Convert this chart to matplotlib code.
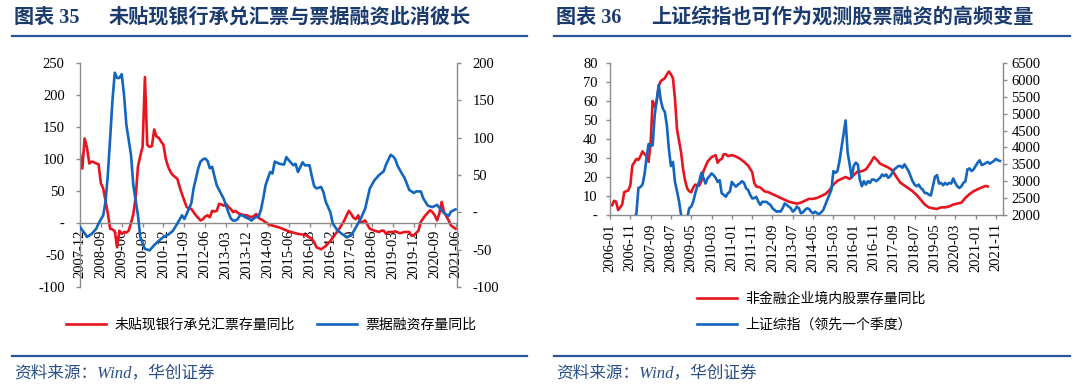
import numpy as np
import pandas as pd
import matplotlib
matplotlib.use('Agg')
import matplotlib.pyplot as plt
from matplotlib.ticker import FuncFormatter

plt.rcParams['font.family'] = ['Liberation Serif', 'Noto Sans CJK SC']
plt.rcParams['axes.unicode_minus'] = False

# ---- chart 35: months after 2007-12 ----
bill_m = [0, 1, 2, 3, 4, 5, 6, 7, 8, 9, 10, 11, 12, 13, 14, 15, 16, 17, 18, 19, 20, 21, 22, 23, 24,
          25, 26, 27, 28, 29, 30, 31, 32, 33, 34, 35, 36, 37, 38, 39, 40, 41, 42, 43, 44, 45, 46, 47,
          48, 49, 50, 51, 52, 53, 54, 55, 56, 57, 58, 59, 60, 61, 62, 63, 64, 65, 66, 67, 68, 69, 70,
          72, 73, 74, 75, 76, 77, 78, 79, 80, 82, 84, 86, 88, 90, 92, 94, 96, 98, 100, 101, 102, 104,
          106, 108, 110, 112, 114, 115, 116, 117, 118, 119, 120, 121, 122, 123, 124, 125, 127, 129,
          130, 131, 132, 133, 135, 136, 138, 140, 142, 143, 144, 146, 147, 149, 151, 152, 153, 154,
          155, 156, 157, 159, 160, 162]
bill_v = [108, 85, 132, 118, 93, 96, 95, 93, 92, 62, 54, 35, 15, -9, -10, -13, -38, -12, -17, -14, -15,
          -12, 0, 14, 40, 88, 105, 119, 228, 122, 119, 120, 146, 135, 133, 127, 122, 100, 88, 80, 75,
          72, 69, 56, 45, 35, 25, 23, 22, 17, 12, 8, 4, 6, 10, 12, 9, 19, 18, 19, 30, 29, 27, 30, 25,
          22, 17, 19, 16, 14, 13, 12, 10, 9, 11, 14, 8, 6, 4, 1, -3, -5, -7, -10, -13, -15, -17, -18,
          -20, -25, -30, -38, -41, -36, -28, -18, -8, 4, 12, 19, 14, 8, 6, 12, 1, 2, 4, -3, -9, -12,
          -14, -12, -12, -17, -14, -14, -13, -16, -14, -14, -20, -19, -12, 2, 12, 20, 17, 12, 4, 15,
          33, 17, 4, -4, -9]

fin_m = [0, 2, 3, 5, 7, 8, 10, 11, 12, 13, 14, 15, 16, 17, 18, 19, 20, 22, 23, 25, 26, 28, 30, 32, 34,
         36, 38, 40, 42, 44, 45, 46, 48, 49, 51, 52, 53, 54, 55, 56, 57, 58, 59, 60, 61, 62, 63, 64, 65,
         66, 67, 68, 69, 70, 71, 73, 74, 75, 76, 77, 78, 79, 80, 82, 83, 84, 86, 88, 89, 90, 92, 93, 94,
         96, 97, 99, 100, 101, 102, 104, 105, 106, 108, 109, 111, 113, 115, 117, 119, 121, 123, 125,
         127, 129, 131, 132, 134, 135, 136, 137, 139, 140, 142, 144, 145, 147, 148, 150, 152, 154, 155,
         157, 159, 160, 162]
fin_v = [-20, -28, -33, -29, -22, -15, -4, 14, 50, 99, 150, 187, 180, 180, 185, 157, 117, 77, 36, -4,
         -33, -49, -51, -44, -38, -33, -30, -25, -15, -4, -9, -2, 12, 32, 59, 68, 71, 72, 69, 59, 61,
         48, 36, 30, 24, 18, 9, 0, -8, -11, -11, -9, -4, -4, -6, -9, -11, -8, -6, -6, 3, 18, 36, 54, 52,
         68, 65, 64, 74, 70, 63, 65, 54, 67, 63, 63, 48, 35, 32, 34, 27, 14, 0, -15, -24, -29, -33, -31,
         -20, -9, 5, 32, 43, 50, 55, 64, 77, 75, 71, 62, 51, 46, 30, 26, 28, 28, 19, 9, 7, 10, 6, -1, -5,
         1, 4]

# ---- chart 36: months after 2006-01 ----
stock_m = [0, 1, 2, 3, 4, 5, 6, 7, 9, 10, 11, 13, 14, 15, 16, 17, 18, 19, 20, 21, 22, 23, 24, 25, 27,
           28, 29, 30, 31, 32, 33, 35, 36, 37, 38, 39, 40, 41, 42, 43, 44, 45, 46, 48, 50, 51, 52, 53,
           54, 55, 56, 57, 58, 60, 62, 64, 66, 68, 70, 71, 72, 74, 76, 78, 80, 82, 84, 86, 88, 90, 92,
           94, 96, 98, 100, 102, 104, 106, 108, 110, 112, 114, 116, 118, 120, 122, 124, 126, 128, 130,
           131, 133, 135, 137, 139, 141, 143, 145, 147, 149, 151, 153, 155, 157, 159, 161, 163, 165,
           167, 169, 171, 173, 175, 177, 179, 181, 183, 185, 186]
stock_v = [5.7, 5, 7.5, 7, 2.6, 4, 5.5, 12, 13, 15.5, 26, 29.5, 29, 31, 33.5, 32, 31, 28, 38, 60, 57,
           60, 68, 70.5, 72, 74, 75.5, 74, 72, 61, 45, 33, 24, 18, 14, 12.5, 12, 14.5, 16, 15.5, 15.5,
           18, 23, 28, 30.5, 31, 31.5, 27.5, 29, 29.5, 32, 32, 31, 31.5, 30.8, 29.6, 28, 26, 22.6, 17,
           15, 14.5, 12.5, 12, 11, 10, 9, 8, 7, 6.5, 6, 6.5, 7.5, 8.5, 8.5, 9, 10, 11, 13, 16, 18, 19,
           20, 19, 21, 23, 23, 24, 27, 30.5, 29.5, 27, 26, 25, 23.5, 20, 17, 15.5, 14, 12.5, 10.5, 8,
           5.5, 4, 3.5, 3.2, 4, 4, 4.5, 5.5, 6, 6.5, 9, 11, 12.5, 13.5, 14.5, 15.3, 15]

sh_m = [12, 13, 14, 15, 16, 17, 18, 19, 20, 21, 22, 23, 24, 25, 26, 27, 28, 29, 30, 31, 32, 33, 34,
        35, 36, 37, 38, 39, 40, 41, 42, 43, 44, 45, 46, 47, 48, 49, 50, 51, 52, 53, 54, 55, 56, 57, 58,
        59, 60, 61, 62, 63, 64, 65, 66, 67, 68, 69, 70, 71, 72, 73, 74, 75, 76, 77, 78, 79, 80, 81, 82,
        83, 84, 85, 86, 87, 88, 89, 90, 91, 92, 93, 94, 95, 96, 97, 98, 99, 100, 101, 102, 103, 104,
        105, 106, 107, 108, 109, 110, 111, 112, 113, 114, 115, 116, 117, 118, 119, 120, 121, 122, 123,
        124, 125, 126, 127, 128, 129, 130, 131, 132, 133, 134, 135, 136, 137, 138, 139, 140, 141, 142,
        143, 144, 145, 146, 147, 148, 149, 150, 151, 152, 153, 154, 155, 156, 157, 158, 159, 160, 161,
        162, 163, 164, 165, 166, 167, 168, 169, 170, 171, 172, 173, 174, 175, 176, 177, 178, 179, 180,
        181, 182, 183, 184, 185, 186, 187, 188, 189, 190, 191, 192]
sh_v = [1900, 2050, 2800, 2830, 2900, 3200, 3700, 4100, 4050, 4060, 4950, 5400, 5850, 5400, 5150, 5050,
        4650, 3950, 3450, 3570, 2980, 2700, 2400, 2000, 1850, 1820, 1900, 2200, 2250, 2400, 2650, 2850,
        3000, 3250, 3100, 2930, 3080, 3150, 3230, 3180, 3100, 2980, 3030, 2640, 2600, 2540, 2640, 2690,
        2980, 2900, 2840, 2900, 2940, 3000, 2950, 2790, 2740, 2600, 2490, 2500, 2540, 2400, 2300, 2390,
        2390, 2390, 2340, 2300, 2200, 2150, 2100, 2110, 2100, 2200, 2340, 2300, 2250, 2200, 2100, 2150,
        2250, 2200, 2050, 2080, 2150, 2200, 2180, 2100, 2050, 2100, 2050, 2030, 2080, 2150, 2300, 2450,
        2600, 2750, 3300, 3250, 3300, 3600, 4000, 4400, 4800, 3850, 3500, 3100, 3450, 3550, 3500, 3050,
        2850, 3000, 2900, 3000, 2950, 3050, 3050, 3000, 3050, 3100, 3200, 3150, 3200, 3100, 3150, 3250,
        3350, 3400, 3450, 3450, 3400, 3500, 3400, 3300, 3150, 3000, 2900, 2850, 2900, 2800, 2750, 2650,
        2650, 2600, 2580, 2850, 3130, 3180, 2930, 2950, 2880, 2950, 2900, 2950, 2930, 3080, 2950, 2850,
        2800, 2850, 2950, 3000, 3350, 3380, 3300, 3350, 3450, 3550, 3620, 3480, 3500, 3540, 3570, 3520,
        3560, 3600, 3660, 3620, 3600]

left_ticks = pd.date_range('2007-12-01', periods=19, freq='9MS').strftime('%Y-%m')
right_ticks = pd.date_range('2006-01-01', periods=20, freq='10MS').strftime('%Y-%m')

RED = '#E8141E'
BLUE = '#1266BE'
GRAY = '#8C8C8C'
NAVY = '#1B3B6F'
LINE = '#2A5597'
CJK = ['Liberation Serif', 'Noto Sans CJK SC']

W, H = 1080, 390
fig = plt.figure(figsize=(10.8, 3.9), dpi=100)


def px_axes(x0, y0, x1, y1):
    return fig.add_axes([x0 / W, 1 - y1 / H, (x1 - x0) / W, (y1 - y0) / H])


def dash_zero(v, pos):
    return '-' if abs(v) < 1e-9 else '%g' % v


def style(ax, sides):
    for s in ['left', 'right', 'top', 'bottom']:
        ax.spines[s].set_visible(s in sides)
        ax.spines[s].set_color(GRAY)
        ax.spines[s].set_linewidth(1.0)
    ax.tick_params(colors=GRAY, labelcolor='black', labelsize=10.5, length=3, width=1.0)
    ax.patch.set_visible(False)


# ---------- chart 35 ----------
ax1 = px_axes(80, 63, 457, 287)
ax1b = ax1.twinx()
style(ax1, ['left', 'bottom'])
style(ax1b, ['right'])
ax1.spines['bottom'].set_position(('data', 0))
ax1.plot(bill_m, bill_v, color=RED, lw=1.9)
ax1b.plot(fin_m, fin_v, color=BLUE, lw=1.9)
ax1.set_xlim(0, 162.6)
ax1.set_ylim(-100, 250)
ax1b.set_ylim(-100, 200)
ax1.set_yticks(range(-100, 251, 50))
ax1b.set_yticks(range(-100, 201, 50))
ax1.yaxis.set_major_formatter(FuncFormatter(dash_zero))
ax1b.yaxis.set_major_formatter(FuncFormatter(dash_zero))
ax1.set_xticks(range(0, 163, 9))
ax1.set_xticklabels(left_ticks)
ax1.tick_params(axis='x', labelrotation=90, pad=2)
ax1.tick_params(axis='y', pad=8)
ax1b.tick_params(axis='y', pad=8)

# ---------- chart 36 ----------
ax2 = px_axes(610, 63, 1003, 215)
ax2b = ax2.twinx()
style(ax2, ['left', 'bottom'])
style(ax2b, ['right'])
ax2.plot(stock_m, stock_v, color=RED, lw=1.9)
ax2b.plot(sh_m, sh_v, color=BLUE, lw=1.9)
ax2.set_xlim(0, 193.5)
ax2.set_ylim(0, 80)
ax2b.set_ylim(2000, 6500)
ax2.set_yticks(range(0, 81, 10))
ax2b.set_yticks(range(2000, 6501, 500))
ax2.yaxis.set_major_formatter(FuncFormatter(dash_zero))
ax2.set_xticks(range(0, 191, 10))
ax2.set_xticklabels(right_ticks)
ax2.tick_params(axis='x', labelrotation=90, pad=3)
ax2.tick_params(axis='y', pad=6)
ax2b.tick_params(axis='y', pad=3)

# ---------- legends ----------
h1 = ax1.get_lines() + ax1b.get_lines()
fig.legend(h1, ['未贴现银行承兑汇票存量同比', '票据融资存量同比'], ncol=2, frameon=False,
           loc='center', bbox_to_anchor=(271 / W, 1 - 325 / H), prop={'family': CJK, 'size': 10},
           handlelength=2.9, handletextpad=0.6, columnspacing=1.6, borderpad=0)
h2 = ax2.get_lines() + ax2b.get_lines()
fig.legend(h2, ['非金融企业境内股票存量同比', '上证综指（领先一个季度）'], ncol=1, frameon=False,
           loc='center left', bbox_to_anchor=(697 / W, 1 - 312 / H), prop={'family': CJK, 'size': 10},
           handlelength=2.9, handletextpad=0.6, labelspacing=0.9, borderpad=0, borderaxespad=0)

# ---------- titles, rules, sources ----------
for x0, x1, num, x_t, title in [(12, 527, '图表 35', 109, '未贴现银行承兑汇票与票据融资此消彼长'),
                                (554, 1070, '图表 36', 651, '上证综指也可作为观测股票融资的高频变量')]:
    fig.text((x0 + 2) / W, 1 - 18 / H, num, family=CJK, fontsize=14.5, weight='bold',
             color=NAVY, va='center')
    fig.text(x_t / W, 1 - 18 / H, title, family=CJK, fontsize=14.5, weight='bold',
             color=NAVY, va='center')
    fig.add_artist(plt.Line2D([x0 / W, x1 / W], [1 - 36 / H, 1 - 36 / H], color=LINE, lw=1.6))
    fig.add_artist(plt.Line2D([x0 / W, x1 / W], [1 - 356 / H, 1 - 356 / H], color=LINE, lw=1.6))
    fig.text((x0 + 2) / W, 1 - 373 / H, '资料来源：Wind，华创证券', family=CJK, fontsize=12,
             style='italic', color='#2A4F8A', va='center')

fig.savefig('out.png', dpi=100)
